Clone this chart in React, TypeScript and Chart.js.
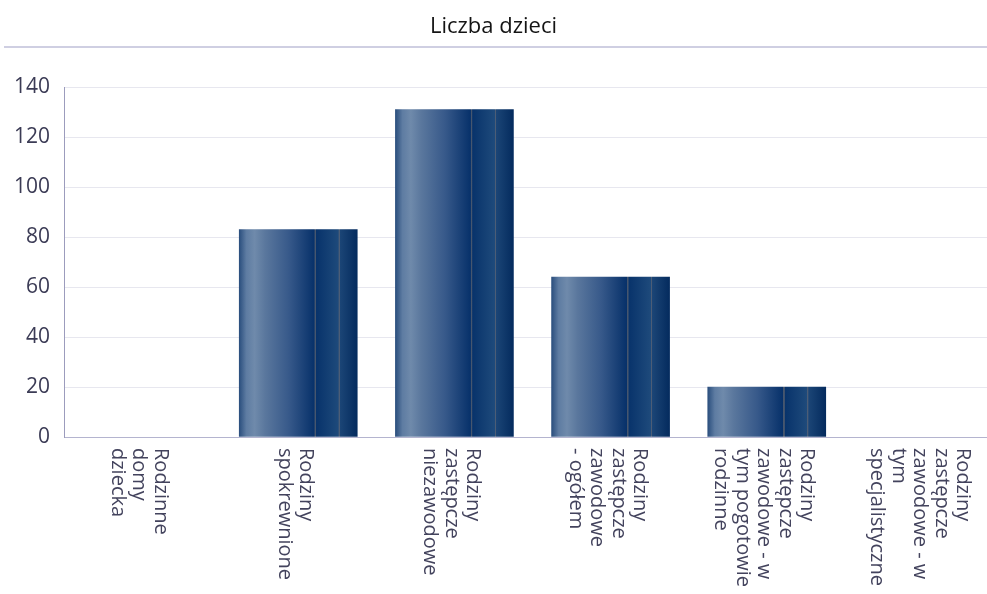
import React, { useEffect, useRef } from "react";
import { Chart, registerables } from "chart.js";

Chart.register(...registerables);

const TITLE = "Liczba dzieci";
const CATEGORY_LINES: string[][] = [
  ["Rodzinne", "domy", "dziecka"],
  ["Rodziny", "spokrewnione"],
  ["Rodziny", "zastępcze", "niezawodowe"],
  ["Rodziny", "zastępcze", "zawodowe", "- ogółem"],
  ["Rodziny", "zastępcze", "zawodowe - w", "tym pogotowie", "rodzinne"],
  ["Rodziny", "zastępcze", "zawodowe - w", "tym", "specjalistyczne"],
];
const VALUES: number[] = [0, 83, 131, 64, 20, 0];
const Y_MIN = 0;
const Y_MAX = 140;
const Y_STEP = 20;

const FONT = "'Open Sans', 'DejaVu Sans', sans-serif";
const BAR_W = 118;

function makeGradient(ctx: CanvasRenderingContext2D, l: number, r: number) {
  const g = ctx.createLinearGradient(l, 0, r, 0);
  g.addColorStop(0, "#2b4f7e");
  g.addColorStop(0.06, "#5e7ca2");
  g.addColorStop(0.13, "#6f8aab");
  g.addColorStop(0.22, "#5a779d");
  g.addColorStop(0.42, "#37598a");
  g.addColorStop(0.636, "#07316a");
  g.addColorStop(0.64, "#46566e");
  g.addColorStop(0.65, "#46566e");
  g.addColorStop(0.654, "#08336b");
  g.addColorStop(0.84, "#1e4a7b");
  g.addColorStop(0.843, "#4c5d76");
  g.addColorStop(0.851, "#4c5d76");
  g.addColorStop(0.855, "#1b4576");
  g.addColorStop(1, "#042b5e");
  return g;
}

export default function App() {
  const ref = useRef<HTMLCanvasElement | null>(null);

  useEffect(() => {
    const canvas = ref.current;
    if (!canvas) return;

    const titlePlugin = {
      id: "customTitle",
      beforeDraw(chart: any) {
        const ctx = chart.ctx;
        ctx.save();
        ctx.font = `22px ${FONT}`;
        ctx.fillStyle = "#141414";
        ctx.textAlign = "center";
        ctx.textBaseline = "middle";
        ctx.fillText(TITLE, 493.5, 27);
        ctx.strokeStyle = "#cfcfe2";
        ctx.lineWidth = 2;
        ctx.beginPath();
        ctx.moveTo(4, 47);
        ctx.lineTo(chart.width, 47);
        ctx.stroke();
        ctx.restore();
      },
    };

    const labelPlugin = {
      id: "rotLabels",
      afterDraw(chart: any) {
        const ctx = chart.ctx;
        const xs = chart.scales.x;
        const top = chart.chartArea.bottom + 11;
        ctx.save();
        ctx.font = `20px ${FONT}`;
        ctx.fillStyle = "#43435d";
        ctx.textAlign = "left";
        ctx.textBaseline = "middle";
        const lh = 21.5;
        CATEGORY_LINES.forEach((lines, i) => {
          const cx = xs.getPixelForValue(i) - 3;
          ctx.save();
          ctx.translate(cx, top);
          ctx.rotate(Math.PI / 2);
          const n = lines.length;
          lines.forEach((ln, j) => {
            ctx.fillText(ln, 0, (j - (n - 1) / 2) * lh);
          });
          ctx.restore();
        });
        ctx.restore();
      },
    };

    const barColor = (c: any) => {
      if (c.type !== "data") return "#1f4577";
      if (!c.raw) return "rgba(0,0,0,0)";
      const chart = c.chart;
      const xs = chart.scales && chart.scales.x;
      if (!xs) return "#1f4577";
      const cx = xs.getPixelForValue(c.dataIndex);
      if (!isFinite(cx)) return "#1f4577";
      return makeGradient(chart.ctx, cx - BAR_W / 2, cx + BAR_W / 2);
    };

    const chart = new Chart(canvas, {
      type: "bar",
      data: {
        labels: CATEGORY_LINES.map((l) => l.join(" ")),
        datasets: [
          {
            label: TITLE,
            data: VALUES,
            backgroundColor: barColor as any,
            borderWidth: 0,
            barThickness: BAR_W,
          },
        ],
      },
      options: {
        responsive: false,
        animation: false,
        devicePixelRatio: 1,
        layout: { padding: { top: 87, left: 0, right: 0, bottom: 0 } },
        plugins: {
          legend: { display: false },
          title: { display: false },
          tooltip: { enabled: false },
        },
        scales: {
          x: {
            grid: { display: false },
            border: { color: "#b4b4cf", width: 1 },
            ticks: { display: false },
            afterFit(scale: any) {
              scale.height = 157;
            },
          },
          y: {
            min: Y_MIN,
            max: Y_MAX,
            ticks: {
              stepSize: Y_STEP,
              color: "#3b3b55",
              font: { family: FONT, size: 21 },
              padding: 14,
            },
            grid: { color: "#e7e7ef", drawTicks: false },
            border: { color: "#9c9cbd", width: 1 },
            afterFit(scale: any) {
              scale.width = 64;
            },
          },
        },
      },
      plugins: [titlePlugin, labelPlugin],
    });

    return () => chart.destroy();
  }, []);

  return (
    <div
      style={{
        position: "absolute",
        left: 0,
        top: 0,
        width: 987,
        height: 594,
        overflow: "hidden",
        background: "#ffffff",
      }}
    >
      <canvas ref={ref} width={1001} height={594} style={{ display: "block" }} />
    </div>
  );
}
